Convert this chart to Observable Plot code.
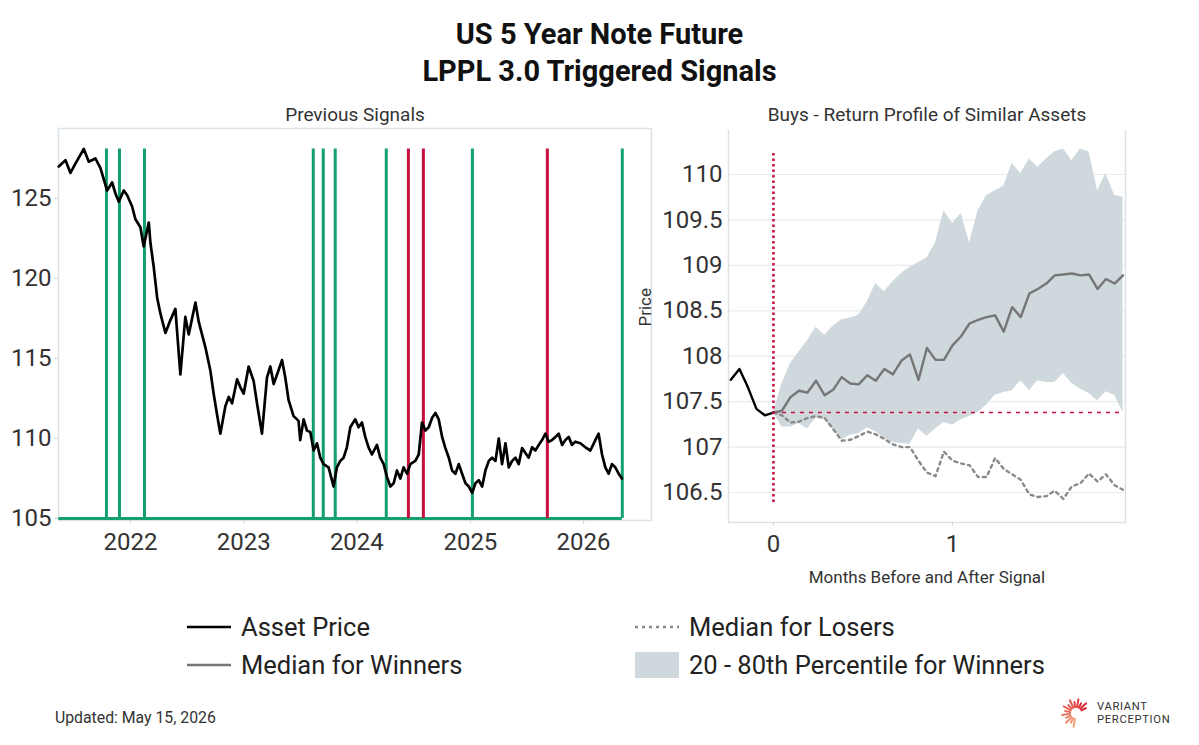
<!DOCTYPE html>
<html>
<head>
<meta charset="utf-8">
<script src="https://cdn.jsdelivr.net/npm/d3@7"></script>
<script src="https://cdn.jsdelivr.net/npm/@observablehq/plot@0.6"></script>
<style>
  html, body { margin: 0; padding: 0; background: #fff; }
  body { width: 1199px; height: 745px; position: relative; overflow: hidden; font-family: Roboto, "Noto Sans", sans-serif; color: #222; }
  .abs { position: absolute; }
  #title { left: 0; width: 1199px; top: 16px; text-align: center; font-weight: 700; font-size: 29px; line-height: 37px; color: #111; }
  .leg { position: absolute; font-size: 25.5px; color: #222; display: flex; align-items: center; white-space: nowrap; }
  .leg svg { margin-right: 10px; }
  #updated { left: 55px; top: 708px; font-size: 15.8px; color: #333; }
  #logo { left: 1060px; top: 697px; display: flex; align-items: center; }
  #logo .txt { font-size: 11.2px; line-height: 13px; color: #333; letter-spacing: 0.7px; margin-left: 3px; }
</style>
</head>
<body>
<div id="title" class="abs">US 5 Year Note Future<br>LPPL 3.0 Triggered Signals</div>
<div id="left" class="abs" style="left:0;top:100px"></div>
<div id="right" class="abs" style="left:630px;top:100px"></div>
<div id="legend"></div>
<div id="updated" class="abs">Updated: May 15, 2026</div>
<div id="logo" class="abs"></div>
<script>
// ---------------- DATA ----------------
// Left panel: asset price (time as decimal year)
const priceYears = [
  2021.367, 2021.426, 2021.470, 2021.515, 2021.588, 2021.632, 2021.691, 2021.735, 2021.794, 2021.838,
  2021.868, 2021.897, 2021.941, 2021.971, 2022.015, 2022.044, 2022.088, 2022.117, 2022.162, 2022.177,
  2022.206, 2022.236, 2022.265, 2022.309, 2022.353, 2022.397, 2022.441, 2022.485, 2022.515, 2022.574,
  2022.603, 2022.662, 2022.706, 2022.735, 2022.765, 2022.794, 2022.838, 2022.868, 2022.898, 2022.942,
  2022.971, 2023.000, 2023.044, 2023.088, 2023.118, 2023.162, 2023.206, 2023.236, 2023.265, 2023.295,
  2023.339, 2023.368, 2023.397, 2023.441, 2023.485, 2023.500, 2023.530, 2023.559, 2023.589, 2023.618,
  2023.648, 2023.677, 2023.706, 2023.750, 2023.765, 2023.794, 2023.824, 2023.853, 2023.883, 2023.912,
  2023.942, 2023.986, 2024.015, 2024.045, 2024.074, 2024.103, 2024.133, 2024.177, 2024.206, 2024.236,
  2024.265, 2024.295, 2024.324, 2024.353, 2024.383, 2024.412, 2024.442, 2024.471, 2024.515, 2024.545,
  2024.574, 2024.604, 2024.633, 2024.663, 2024.692, 2024.721, 2024.751, 2024.780, 2024.810, 2024.839,
  2024.868, 2024.898, 2024.927, 2024.957, 2024.986, 2025.016, 2025.045, 2025.074, 2025.104, 2025.133,
  2025.163, 2025.192, 2025.222, 2025.251, 2025.280, 2025.310, 2025.339, 2025.369, 2025.398, 2025.427,
  2025.457, 2025.486, 2025.515, 2025.545, 2025.574, 2025.604, 2025.633, 2025.663, 2025.692, 2025.721,
  2025.751, 2025.780, 2025.810, 2025.839, 2025.868, 2025.898, 2025.927, 2025.971, 2026.016, 2026.060,
  2026.104, 2026.133, 2026.163, 2026.192, 2026.221, 2026.251, 2026.280, 2026.310, 2026.339
];
const priceValues = [
  127.0, 127.4, 126.6, 127.2, 128.1, 127.3, 127.5, 126.9, 125.5, 126.0,
  125.3, 124.8, 125.5, 125.2, 124.5, 123.7, 123.2, 122.0, 123.5, 122.2,
  120.7, 118.8, 117.8, 116.6, 117.4, 118.1, 114.0, 117.6, 116.5, 118.5,
  117.3, 115.7, 114.25, 112.8, 111.5, 110.3, 112.0, 112.6, 112.2, 113.7,
  113.2, 112.8, 114.5, 113.6, 112.2, 110.3, 113.8, 114.5, 113.4, 114.0,
  114.9, 113.8, 112.4, 111.4, 111.1, 109.9, 111.2, 110.5, 110.4, 109.25,
  109.7, 108.8, 108.4, 108.2, 107.8, 107.0, 108.2, 108.6, 108.8, 109.45,
  110.7, 111.2, 110.7, 111.0, 110.1, 109.45, 109.0, 109.6, 108.8, 108.4,
  107.6, 107.0, 107.2, 108.0, 107.5, 108.2, 107.8, 108.4, 108.6, 109.0,
  111.0, 110.5, 110.7, 111.3, 111.6, 111.2, 110.1, 109.4, 108.8, 108.0,
  107.8, 108.4, 107.8, 107.2, 107.0, 106.6, 107.2, 107.4, 107.0, 108.0,
  108.6, 108.8, 108.6, 110.0, 108.4, 109.7, 108.2, 108.6, 108.8, 108.4,
  109.4, 109.1, 108.8, 109.45, 109.25, 109.6, 109.9, 110.3, 109.8, 109.9,
  110.1, 110.3, 109.6, 109.9, 110.1, 109.6, 109.8, 109.7, 109.45, 109.25,
  109.9, 110.3, 109.0, 108.2, 107.8, 108.4, 108.2, 107.8, 107.5
];
// Signal dates (decimal year)
const buySignals  = [2021.788, 2021.903, 2022.124, 2023.615, 2023.703, 2023.809, 2024.259, 2025.018, 2026.342];
const sellSignals = [2024.454, 2024.586, 2025.680];
const signalBase = 105;
const signalTop = 128.1;

// Right panel: months relative to the signal
const assetMonths = [-0.238, -0.190, -0.143, -0.095, -0.048, 0];
const assetValues = [107.74, 107.86, 107.66, 107.42, 107.35, 107.38];
const afterMonths = [
  0, 0.048, 0.095, 0.143, 0.190, 0.238, 0.286, 0.333, 0.381, 0.429, 0.476,
  0.524, 0.571, 0.619, 0.667, 0.714, 0.762, 0.810, 0.857, 0.905, 0.952,
  1.000, 1.048, 1.095, 1.143, 1.190, 1.238, 1.286, 1.333, 1.381, 1.429,
  1.476, 1.524, 1.571, 1.619, 1.667, 1.714, 1.762, 1.810, 1.857, 1.905, 1.952
];
const winnersMedian = [
  107.38, 107.40, 107.55, 107.62, 107.60, 107.73, 107.57, 107.63, 107.77, 107.70, 107.69,
  107.79, 107.73, 107.86, 107.80, 107.95, 108.02, 107.74, 108.09, 107.96, 107.96,
  108.12, 108.22, 108.36, 108.40, 108.43, 108.45, 108.27, 108.54, 108.43, 108.69,
  108.74, 108.80, 108.89, 108.90, 108.91, 108.89, 108.90, 108.74, 108.85, 108.80, 108.89
];
const losersMedian = [
  107.38, 107.35, 107.27, 107.28, 107.32, 107.34, 107.32, 107.20, 107.07, 107.08, 107.12,
  107.17, 107.14, 107.09, 107.03, 107.00, 107.00, 106.85, 106.72, 106.68, 106.95,
  106.85, 106.82, 106.80, 106.67, 106.67, 106.88, 106.76, 106.70, 106.64, 106.48,
  106.45, 106.46, 106.52, 106.43, 106.57, 106.60, 106.71, 106.62, 106.70, 106.58, 106.53
];
const winnersP80 = [
  107.38, 107.70, 107.92, 108.05, 108.17, 108.32, 108.23, 108.33, 108.40, 108.42, 108.45,
  108.60, 108.80, 108.71, 108.82, 108.91, 108.98, 109.03, 109.08, 109.25, 109.60,
  109.46, 109.57, 109.25, 109.60, 109.77, 109.82, 109.87, 110.12, 110.01, 110.17,
  110.08, 110.17, 110.25, 110.28, 110.15, 110.28, 110.25, 109.82, 110.01, 109.77, 109.75
];
const winnersP20 = [
  107.38, 107.22, 107.22, 107.26, 107.20, 107.32, 107.30, 107.20, 107.08, 107.13, 107.15,
  107.21, 107.17, 107.10, 107.05, 107.04, 107.03, 107.20, 107.12, 107.20, 107.27,
  107.24, 107.30, 107.34, 107.38, 107.46, 107.57, 107.60, 107.62, 107.73, 107.62,
  107.73, 107.71, 107.71, 107.81, 107.70, 107.64, 107.59, 107.51, 107.61, 107.57, 107.38
];
const signalPrice = 107.38;
const signalMarkerRange = [106.39, 110.24];

const leftYTicks = [105, 110, 115, 120, 125];
const rightYTicks = [106.5, 107, 107.5, 108, 108.5, 109, 109.5, 110];
const rightXTicks = [0, 1];

// ---------------- HELPERS ----------------
function toDate(y) {
  const yr = Math.floor(y);
  const a = Date.UTC(yr, 0, 1), b = Date.UTC(yr + 1, 0, 1);
  return new Date(a + (y - yr) * (b - a));
}
const GREEN = "#14a06e";
const RED = "#c8103e";
const BAND = "#cfd8dd";
const WIN = "#767676";
const LOSE = "#8a8a8a";
const FONT = "Roboto, 'Noto Sans', sans-serif";
const numFmt = d => String(d);

const price = priceYears.map((t, i) => ({date: toDate(t), price: priceValues[i]}));
const buys = buySignals.map(toDate);
const sells = sellSignals.map(toDate);
const asset = assetMonths.map((m, i) => ({m, v: assetValues[i]}));
const after = afterMonths.map((m, i) => ({m, win: winnersMedian[i], lose: losersMedian[i], hi: winnersP80[i], lo: winnersP20[i]}));

// ---------------- LEFT PANEL ----------------
const left = Plot.plot({
  width: 660, height: 500,
  marginLeft: 58, marginRight: 9, marginTop: 28, marginBottom: 80,
  style: {background: "transparent", fontFamily: FONT, fontSize: "24px", color: "#333", overflow: "visible"},
  x: {type: "utc", domain: [toDate(2021.3645), toDate(2026.6)]},
  y: {domain: [104.875, 129.375]},
  marks: [
    Plot.frame({stroke: "#dbe2e7", strokeWidth: 1.5}),
    Plot.axisY({ticks: leftYTicks, tickFormat: numFmt, tickSize: 4, tickPadding: 3, stroke: "#d3dadf", fill: "#333", label: null, fontSize: 24}),
    Plot.axisX({ticks: d3.utcYear.every(1), tickFormat: d3.utcFormat("%Y"), tickSize: 4, tickPadding: 8, stroke: "#d3dadf", fill: "#333", label: null, fontSize: 24}),
    Plot.ruleY([signalBase], {x1: price[0].date, x2: buys[buys.length - 1], stroke: GREEN, strokeWidth: 3}),
    Plot.ruleX(buys, {x: d => d, y1: signalBase, y2: signalTop, stroke: GREEN, strokeWidth: 3}),
    Plot.ruleX(sells, {x: d => d, y1: signalBase, y2: signalTop, stroke: RED, strokeWidth: 3}),
    Plot.line(price, {x: "date", y: "price", stroke: "#000", strokeWidth: 2.7, strokeLinejoin: "round"}),
    Plot.text(["Previous Signals"], {frameAnchor: "top", lineAnchor: "middle", dy: -14, fontSize: 19, fill: "#333"})
  ]
});
document.getElementById("left").appendChild(left);

// ---------------- RIGHT PANEL ----------------
const lastM = afterMonths[afterMonths.length - 1];
const right = Plot.plot({
  width: 569, height: 500,
  marginLeft: 98, marginRight: 74, marginTop: 30, marginBottom: 78,
  style: {background: "transparent", fontFamily: FONT, fontSize: "24px", color: "#333", overflow: "visible"},
  x: {domain: [-0.251, 1.966]},
  y: {domain: [106.17, 110.484]},
  marks: [
    Plot.gridY({ticks: rightYTicks, stroke: "#e8ecef", strokeOpacity: 1, strokeWidth: 1.2}),
    Plot.areaY(after, {x: "m", y1: "lo", y2: "hi", fill: BAND, fillOpacity: 1}),
    Plot.frame({anchor: "left", stroke: "#dbe2e7", strokeWidth: 1.5}),
    Plot.frame({anchor: "right", stroke: "#dbe2e7", strokeWidth: 1.5}),
    Plot.frame({anchor: "bottom", stroke: "#dbe2e7", strokeWidth: 1.5}),
    Plot.axisY({ticks: rightYTicks, tickFormat: numFmt, tickSize: 0, tickPadding: 6, fill: "#333", label: null, fontSize: 24}),
    Plot.axisX({ticks: rightXTicks, tickFormat: numFmt, tickSize: 4, tickPadding: 8, stroke: "#d3dadf", fill: "#333", label: null, fontSize: 24}),
    Plot.ruleY([signalPrice], {x1: 0, x2: lastM, stroke: RED, strokeWidth: 1.6, strokeDasharray: "4,5"}),
    Plot.line(after, {x: "m", y: "lose", stroke: LOSE, strokeWidth: 2.4, strokeDasharray: "3,4"}),
    Plot.line(after, {x: "m", y: "win", stroke: WIN, strokeWidth: 2.4}),
    Plot.line(asset, {x: "m", y: "v", stroke: "#000", strokeWidth: 2.4}),
    Plot.ruleX([0], {y1: signalMarkerRange[0], y2: signalMarkerRange[1], stroke: RED, strokeWidth: 2.6, strokeDasharray: "2.5,3"}),
    Plot.text(["Buys - Return Profile of Similar Assets"], {frameAnchor: "top", lineAnchor: "middle", dy: -16, fontSize: 19, fill: "#333"}),
    Plot.text(["Months Before and After Signal"], {frameAnchor: "bottom", lineAnchor: "middle", dy: 55, fontSize: 17, fill: "#333"}),
    Plot.text(["Price"], {frameAnchor: "left", dx: -83, rotate: -90, fontSize: 17, fill: "#333"})
  ]
});
document.getElementById("right").appendChild(right);

// ---------------- LEGEND ----------------
const legendItems = [
  {label: "Asset Price", kind: "line", color: "#000", dash: null, left: 187, top: 627},
  {label: "Median for Winners", kind: "line", color: WIN, dash: null, left: 187, top: 665},
  {label: "Median for Losers", kind: "line", color: LOSE, dash: "3,4", left: 635, top: 627},
  {label: "20 - 80th Percentile for Winners", kind: "box", color: BAND, dash: null, left: 635, top: 665}
];
const legend = document.getElementById("legend");
legendItems.forEach(it => {
  const div = document.createElement("div");
  div.className = "leg";
  div.style.left = it.left + "px";
  div.style.top = (it.top - 15) + "px";
  div.style.height = "30px";
  let sw;
  if (it.kind === "line") {
    sw = `<svg width="44" height="30"><line x1="0" x2="44" y1="15" y2="15" stroke="${it.color}" stroke-width="2.6" ${it.dash ? `stroke-dasharray="${it.dash}"` : ""}/></svg>`;
  } else {
    sw = `<svg width="44" height="30"><rect x="0" y="2" width="44" height="26" fill="${it.color}"/></svg>`;
  }
  div.innerHTML = sw + `<span>${it.label}</span>`;
  legend.appendChild(div);
});

// ---------------- LOGO ----------------
(function () {
  let lines = "";
  const cx = 16, cy = 16;
  for (let k = 0; k < 14; k++) {
    const a = (100 + k * 18) * Math.PI / 180;
    const r1 = 6, r2 = 14 - (k % 2) * 3;
    const t = k / 13;
    const col = d3.interpolateRgb("#f4a07a", "#d8202f")(t);
    lines += `<line x1="${cx + r1 * Math.cos(a)}" y1="${cy + r1 * Math.sin(a)}" x2="${cx + r2 * Math.cos(a)}" y2="${cy + r2 * Math.sin(a)}" stroke="${col}" stroke-width="2" stroke-linecap="round"/>`;
  }
  document.getElementById("logo").innerHTML =
    `<svg width="34" height="32">${lines}</svg><div class="txt">VARIANT<br>PERCEPTION</div>`;
})();
</script>
</body>
</html>
